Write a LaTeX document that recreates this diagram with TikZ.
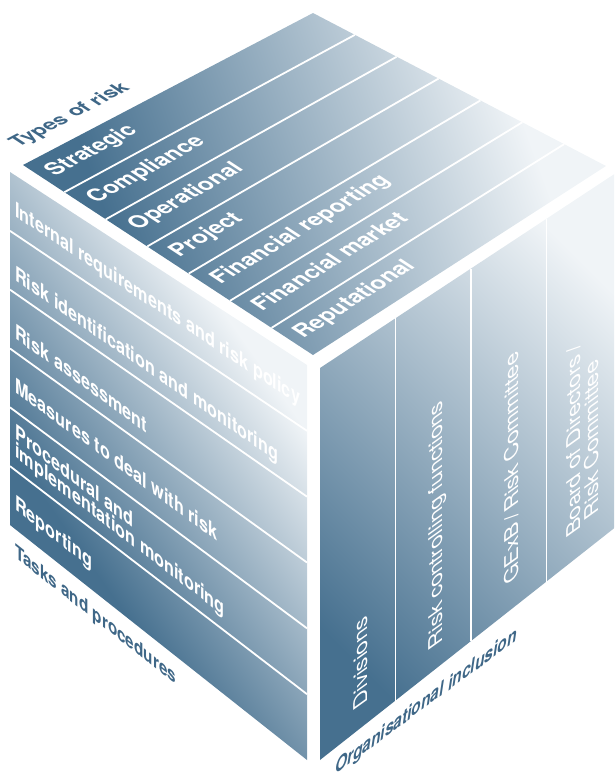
\documentclass[tikz,border=0pt]{standalone}
\usepackage{fontspec}
\setmainfont{TeX Gyre Heros}
\newfontfamily\cubefont[FakeStretch=0.8]{TeX Gyre Heros}
\usetikzlibrary{calc}

\definecolor{cubedark}{HTML}{46708F}
\definecolor{cubelight}{HTML}{F0F4F7}
\definecolor{labelblue}{HTML}{3F6787}

% gradients of the three faces, dark to light
\pgfdeclareverticalshading{topgrad}{100bp}{color(0bp)=(cubedark); color(30bp)=(cubedark);
  color(71bp)=(cubelight); color(100bp)=(cubelight)}
\pgfdeclareverticalshading{lftgrad}{100bp}{color(0bp)=(cubedark); color(36.5bp)=(cubedark);
  color(67bp)=(cubelight); color(100bp)=(cubelight)}
\pgfdeclareverticalshading{rgtgrad}{100bp}{color(0bp)=(cubedark); color(25bp)=(cubedark);
  color(75bp)=(cubelight); color(100bp)=(cubelight)}

% stretch of the text along and across each face
\def\topsx{1.45}
\def\topsy{1.2}
\def\lftsx{1.07}
\def\lftsy{1.1}
\def\rgtsx{1.45}

\tikzset{
  divider/.style={white, line width=1.8pt},
  facetext/.style={white, inner sep=0pt, anchor=base west,
    font=\cubefont\bfseries\fontsize{19}{19}\selectfont},
  coltext/.style={facetext, font=\cubefont\fontsize{19}{19}\selectfont},
  sidelabel/.style={labelblue, inner sep=0pt, anchor=base west,
    font=\cubefont\bfseries\fontsize{18}{18}\selectfont},
}

\begin{document}
\begin{tikzpicture}[x=1pt, y=-1pt]
\useasboundingbox (0,0) rectangle (614,781);
\clip (0,0) rectangle (614,781);

% corners of the faces
\coordinate (topL) at (23,165);
\coordinate (topB) at (313,13);
\coordinate (topR) at (606,166);
\coordinate (topF) at (313,355);
\coordinate (lftTL) at (10,172);
\coordinate (lftTR) at (307,365);
\coordinate (lftBR) at (307,760);
\coordinate (lftBL) at (10,525);
\coordinate (rgtTL) at (320,368);
\coordinate (rgtTR) at (622,169);
\coordinate (rgtBR) at (622,522);
\coordinate (rgtBL) at (320,760);

% faces
\shade[shading=topgrad, shading angle=-70]
  (topL) -- (topB) -- (topR) -- (topF) -- cycle;
\shade[shading=lftgrad, shading angle=-55]
  (lftTL) -- (lftTR) -- (lftBR) -- (lftBL) -- cycle;
\shade[shading=rgtgrad, shading angle=-45]
  (rgtTL) -- (rgtTR) -- (rgtBR) -- (rgtBL) -- cycle;

% types of risk
\foreach \k in {1,...,6}
  \draw[divider] ($(topL)!\k/7!(topF)$) -- ($(topB)!\k/7!(topR)$);
\foreach \lab [count=\j from 0] in {Strategic,Compliance,Operational,Project,
    Financial reporting,Financial market,Reputational} {
  \pgfmathsetmacro\kk{\j+0.58}
  \pgfmathsetmacro\ang{atan((152+37*\kk/7)/(290+3*\kk/7))}
  \pgfmathsetmacro\ca{\topsx*cos(\ang)}
  \pgfmathsetmacro\cb{\topsx*sin(\ang)}
  \pgfmathsetmacro\cc{-0.836*\topsy}
  \pgfmathsetmacro\cd{0.548*\topsy}
  \node[facetext, cm={\ca,\cb,\cc,\cd,(0,0)}] (risk\j)
    at ($(topL)!\kk/7!(topF) + ({9*cos(\ang)},{-9*sin(\ang)})$) {\lab};
}

% tasks and procedures
\foreach \k in {1,...,5}
  \draw[divider] ($(lftTL)!\k/6!(lftBL)$) -- ($(lftTR)!\k/6!(lftBR)$);
\foreach \lab/\row/\f [count=\j] in {Internal requirements and risk policy/0/0.69,
    Risk identification and monitoring/1/0.78,Risk assessment/2/0.77,
    Measures to deal with risk/3/0.68,Procedural and/4/0.47,
    implementation monitoring/4/0.77,Reporting/5/0.66} {
  \pgfmathsetmacro\kk{\row+\f}
  \pgfmathsetmacro\sl{(193+7*\kk)/297}
  \pgfmathsetmacro\cb{-\lftsx*\sl}
  \node[facetext, cm={\lftsx,\cb,0,\lftsy,(0,0)}] (task\j)
    at ($(lftTL)!\kk/6!(lftBL) + (5,{5*\sl})$) {\lab};
}

% organisational inclusion
\foreach \k in {1,2,3}
  \draw[divider] ($(rgtTL)!\k/4!(rgtTR)$) -- ($(rgtBL)!\k/4!(rgtBR)$);
\node[coltext, cm={0,\rgtsx,-1,-0.72,(0,0)}] (unit1) at (367,703) {Divisions};
\node[coltext, cm={0,\rgtsx,-1,-0.72,(0,0)}] (unit2) at (442,643) {Risk controlling functions};
\node[coltext, cm={0,\rgtsx,-1,-0.72,(0,0)}] (unit3) at (518,578) {GExB\,/\,Risk Committee};
\node[coltext, cm={0,\rgtsx,-1,-0.72,(0,0)}] (unit4) at (580,530) {Board of Directors\,/};
\node[coltext, cm={0,\rgtsx,-1,-0.72,(0,0)}] (unit5) at (598,513) {Risk Committee};

% axis labels
\node[sidelabel, cm={1.283,0.673,-0.92,0.603,(0,0)}] (typeslabel) at (18,148) {Types of risk};
\node[sidelabel, cm={1.06,-0.84,0,1.08,(0,0)}] (taskslabel) at (15,557) {Tasks and procedures};
\node[sidelabel, font=\cubefont\bfseries\itshape\fontsize{18}{18}\selectfont,
  cm={1.08,0.80,0,1.08,(0,0)}] (orglabel) at (335,775) {Organisational inclusion};
\end{tikzpicture}
\end{document}
